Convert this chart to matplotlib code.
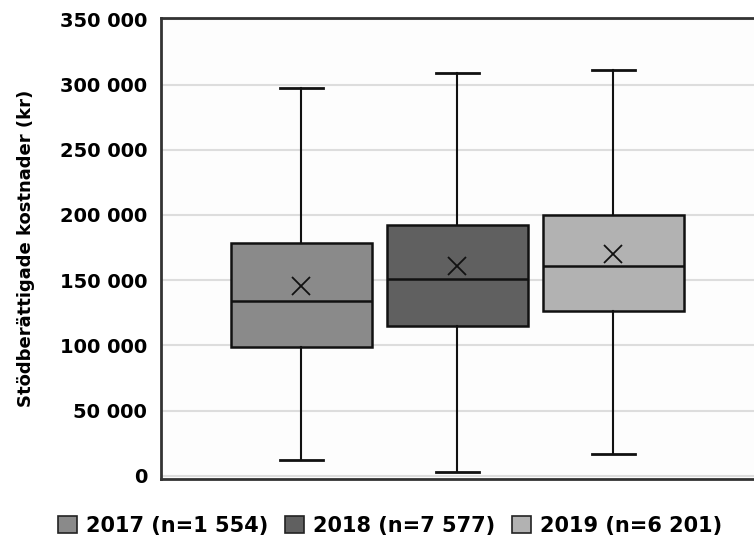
import matplotlib
matplotlib.use("Agg")
import matplotlib.pyplot as plt
from matplotlib.patches import Patch
from matplotlib.ticker import FuncFormatter

# Data (kr)
years = ["2017", "2018", "2019"]
n_obs = ["1 554", "7 577", "6 201"]
whislo = [12300, 3100, 16900]
q1 = [98600, 115200, 126000]
med = [133700, 150700, 161200]
q3 = [178600, 192300, 200200]
whishi = [297000, 309000, 310800]
means = [145800, 161200, 170200]
colors = ["#8a8a8a", "#606060", "#b2b2b2"]

plt.rcParams["font.family"] = ["DejaVu Sans"]

fig = plt.figure(figsize=(7.54, 5.47), dpi=100)
ax = fig.add_axes([161 / 754, 68 / 547, 1 - 161 / 754 + 0.01, 461 / 547])
ax.set_facecolor("#fdfdfd")

stats = []
for i in range(len(years)):
    stats.append({"whislo": whislo[i], "q1": q1[i], "med": med[i],
                  "q3": q3[i], "whishi": whishi[i], "mean": means[i],
                  "fliers": [], "label": years[i]})

bp = ax.bxp(stats, positions=[1, 2, 3], widths=0.9, capwidths=0.28,
            patch_artist=True, showmeans=True, meanline=False, showfliers=False,
            boxprops=dict(edgecolor="#111111", linewidth=1.8),
            medianprops=dict(color="#111111", linewidth=1.8),
            whiskerprops=dict(color="#111111", linewidth=1.5),
            capprops=dict(color="#111111", linewidth=2),
            meanprops=dict(marker="x", markeredgecolor="#111111",
                           markersize=13, markeredgewidth=1.3))
for patch, c in zip(bp["boxes"], colors):
    patch.set_facecolor(c)

ax.set_xlim(0.1, 3.95)
ax.set_ylim(-2500, 351000)
ax.set_yticks(range(0, 350001, 50000))
ax.yaxis.set_major_formatter(FuncFormatter(lambda v, p: f"{int(v):,}".replace(",", " ")))
ax.set_xticks([])
ax.tick_params(axis="y", length=0, pad=10, labelsize=14)
for lab in ax.get_yticklabels():
    lab.set_fontweight("bold")
ax.grid(axis="y", color="#dddddd", linewidth=1.5)
ax.set_axisbelow(True)

for s in ["left", "top", "bottom"]:
    ax.spines[s].set_color("#333333")
    ax.spines[s].set_linewidth(2)
ax.spines["right"].set_visible(False)

ax.set_ylabel("Stödberättigade kostnader (kr)", fontsize=13, fontweight="bold", labelpad=18)

handles = [Patch(facecolor=c, edgecolor="#222222", linewidth=1.2) for c in colors]
labels = [f"{y} (n={n})" for y, n in zip(years, n_obs)]
fig.legend(handles, labels, loc="center", bbox_to_anchor=(390 / 754, 1 - 526 / 547),
           ncol=3, frameon=False, handlelength=0.9, handleheight=0.9,
           handletextpad=0.45, columnspacing=0.8, prop={"weight": "bold", "size": 15})

fig.savefig("out.png", dpi=100)
